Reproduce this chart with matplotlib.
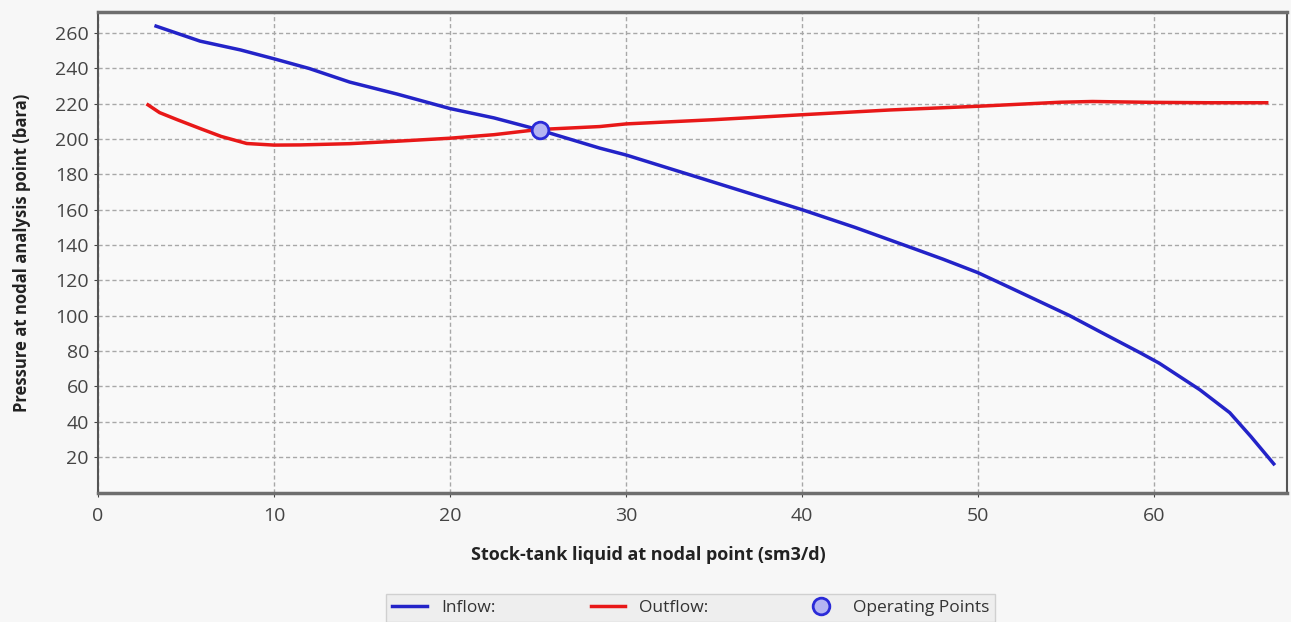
import matplotlib.pyplot as plt

# Inflow curve (IPR)
inflow_q = [3.3, 5.8, 8.1, 10, 12, 14.3, 17, 20, 22.5, 25, 28.5, 30, 34.2, 40,
            43, 45.9, 48, 50, 52, 55.2, 57, 59.2, 60.3, 62.6, 64.3, 65.5, 66.8]
inflow_p = [264, 255.5, 250.5, 245.5, 240, 232.3, 225.5, 217.3, 212, 205.4, 194.9, 191,
            178, 160, 150, 139.6, 132, 124.3, 115, 100, 90.5, 79, 73, 58, 45, 31.5, 16]

# Outflow curve (VLP)
outflow_q = [2.84, 3.5, 4.5, 5.8, 7, 8.45, 10, 11.5, 14.3, 17, 20, 22.5, 25, 28.5,
             30, 35, 40, 45, 50, 54.7, 56.5, 60, 63, 66.4]
outflow_p = [219.4, 215, 211, 206, 201.5, 197.5, 196.6, 196.7, 197.4, 198.8, 200.5,
             202.5, 205.4, 207.1, 208.6, 211, 213.8, 216.5, 218.6, 220.9, 221.3,
             220.8, 220.6, 220.6]

# Operating point
op_q = [25.1]
op_p = [205.4]

x_ticks = [0, 10, 20, 30, 40, 50, 60]
y_ticks = [20, 40, 60, 80, 100, 120, 140, 160, 180, 200, 220, 240, 260]

plt.rcParams['font.family'] = ['Open Sans', 'DejaVu Sans']

fig = plt.figure(figsize=(12.91, 6.22), dpi=100, facecolor='#f7f7f7')
ax = fig.add_axes([0.0759, 0.2074, 0.9211, 0.7733], facecolor='#f9f9f9')

ax.plot(inflow_q, inflow_p, color='#2323c8', linewidth=2.5, label='Inflow:')
ax.plot(outflow_q, outflow_p, color='#e81818', linewidth=2.5, label='Outflow:')
ax.plot(op_q, op_p, linestyle='none', marker='o', markersize=12,
        markerfacecolor='#b4b4f2', markeredgecolor='#2a2ad8', markeredgewidth=2,
        label='Operating Points', zorder=5)

ax.set_xlim(0, 67.56)
ax.set_ylim(-0.5, 272)
ax.set_xticks(x_ticks)
ax.set_yticks(y_ticks)
ax.tick_params(labelsize=14, colors='#444444', length=3, width=0.8)
ax.tick_params(axis='x', pad=7)

ax.grid(True, color='#a8a8a8', linestyle=(0, (3, 2)), linewidth=1)
ax.set_axisbelow(True)

for side in ['top', 'bottom']:
    ax.spines[side].set_color('#6e6e6e')
    ax.spines[side].set_linewidth(2.5)
for side in ['left', 'right']:
    ax.spines[side].set_color('#555555')
    ax.spines[side].set_linewidth(1.5)

ax.set_xlabel('Stock-tank liquid at nodal point (sm3/d)', fontsize=13,
              fontweight='bold', color='#222222', labelpad=16)
ax.xaxis.set_label_coords(0.463, -0.11)
ax.set_ylabel('Pressure at nodal analysis point (bara)', fontsize=12,
              fontweight='bold', color='#222222')
ax.yaxis.set_label_coords(-0.056, 0.5)

leg = fig.legend(loc='lower center', bbox_to_anchor=(0.535, -0.014), ncol=3,
                 fontsize=12.5, frameon=True, fancybox=False, columnspacing=5.5,
                 handlelength=2, borderpad=0.35)
leg.get_frame().set_facecolor('#ececec')
leg.get_frame().set_edgecolor('#c8c8c8')
for t in leg.get_texts():
    t.set_color('#333333')

fig.savefig('out.png', dpi=100, facecolor=fig.get_facecolor())
